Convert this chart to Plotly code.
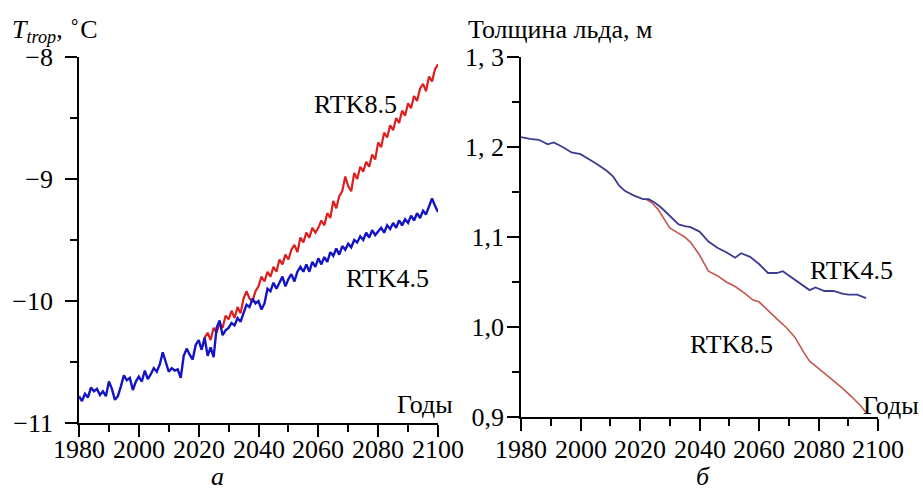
import plotly.graph_objects as go

# ---- Panel a: tropospheric temperature ----
years_a_blue = list(range(1980, 2101))
temp_rtk45 = [
    -10.78, -10.82, -10.76, -10.79, -10.71, -10.74, -10.72, -10.77, -10.74, -10.78,
    -10.66, -10.72, -10.81, -10.78, -10.70, -10.61, -10.65, -10.63, -10.73, -10.66,
    -10.62, -10.66, -10.57, -10.64, -10.60, -10.55, -10.58, -10.52, -10.42, -10.50,
    -10.58, -10.55, -10.57, -10.56, -10.63, -10.45, -10.39, -10.44, -10.48, -10.36,
    -10.32, -10.40, -10.30, -10.45, -10.38, -10.46, -10.22, -10.16, -10.28, -10.24,
    -10.22, -10.18, -10.20, -10.14, -10.17, -10.10, -10.03, -10.05, -9.98, -10.02,
    -10.00, -10.07, -10.02, -9.90, -9.92, -9.85, -9.90, -9.85, -9.80, -9.88,
    -9.82, -9.78, -9.84, -9.76, -9.72, -9.76, -9.70, -9.76, -9.68, -9.72,
    -9.65, -9.70, -9.64, -9.68, -9.60, -9.63, -9.57, -9.62, -9.55, -9.58,
    -9.53, -9.56, -9.50, -9.52, -9.47, -9.50, -9.44, -9.48, -9.42, -9.46,
    -9.43, -9.40, -9.44, -9.38, -9.41, -9.36, -9.40, -9.34, -9.38, -9.33,
    -9.36, -9.30, -9.34, -9.28, -9.32, -9.26, -9.29, -9.22, -9.16, -9.22,
    -9.27,
]
years_a_red = list(range(2022, 2101))
temp_rtk85 = [
    -10.30, -10.26, -10.32, -10.22, -10.26, -10.18, -10.22, -10.12,
    -10.15, -10.08, -10.14, -10.05, -10.10, -9.98, -9.92, -9.98, -10.00, -9.92,
    -9.88, -9.80, -9.84, -9.76, -9.80, -9.72, -9.76, -9.66, -9.70, -9.62,
    -9.66, -9.58, -9.54, -9.60, -9.48, -9.52, -9.44, -9.48, -9.40, -9.44,
    -9.40, -9.34, -9.38, -9.28, -9.32, -9.18, -9.24, -9.14, -9.10, -8.98,
    -9.06, -9.10, -8.95, -9.00, -8.90, -8.94, -8.86, -8.90, -8.80, -8.84,
    -8.70, -8.74, -8.62, -8.66, -8.56, -8.60, -8.50, -8.54, -8.44, -8.48,
    -8.38, -8.42, -8.32, -8.36, -8.26, -8.22, -8.28, -8.16, -8.20, -8.10,
    -8.06,
]

# ---- Panel b: ice thickness ----
years_b_blue = [1980, 1983, 1986, 1989, 1991, 1994, 1997, 2000, 2003, 2006, 2009,
                2011, 2013, 2015, 2018, 2021, 2023, 2025, 2027, 2030, 2033, 2035,
                2037, 2040, 2043, 2046, 2049, 2052, 2054, 2057, 2060, 2063, 2066,
                2068, 2071, 2074, 2077, 2079, 2082, 2085, 2088, 2090, 2093, 2096]
ice_rtk45 = [1.211, 1.209, 1.208, 1.203, 1.205, 1.200, 1.194, 1.192, 1.186, 1.180, 1.173,
             1.167, 1.157, 1.151, 1.146, 1.142, 1.142, 1.138, 1.133, 1.124, 1.114, 1.112,
             1.111, 1.106, 1.095, 1.088, 1.083, 1.077, 1.082, 1.078, 1.070, 1.060, 1.060,
             1.062, 1.055, 1.048, 1.041, 1.044, 1.040, 1.040, 1.037, 1.036, 1.036, 1.032]
years_b_red = [2022, 2024, 2026, 2028, 2030, 2033, 2035, 2037, 2040, 2043, 2046, 2049,
               2052, 2055, 2058, 2060, 2063, 2066, 2069, 2072, 2075, 2077, 2080, 2083,
               2086, 2088, 2091, 2094, 2096]
ice_rtk85 = [1.142, 1.138, 1.131, 1.120, 1.110, 1.104, 1.100, 1.094, 1.080, 1.062, 1.057, 1.050,
             1.045, 1.038, 1.030, 1.028, 1.018, 1.009, 1.000, 0.989, 0.972, 0.962, 0.954, 0.946,
             0.937, 0.932, 0.923, 0.913, 0.905]

x_ticks = [1980, 2000, 2020, 2040, 2060, 2080, 2100]
ya_ticks = [-8, -9, -10, -11]
yb_ticks = [1.3, 1.2, 1.1, 1.0, 0.9]
yb_ticktext = ["1, 3", "1, 2", "1,1", "1,0", "0,9"]

W, H = 923, 493
FONT = "Liberation Serif, Times New Roman, serif"
FS = 26

fig = go.Figure()
fig.add_trace(go.Scatter(x=years_a_red, y=temp_rtk85, mode="lines",
                         line=dict(color="#dc1f1f", width=2.2), xaxis="x", yaxis="y"))
fig.add_trace(go.Scatter(x=years_a_blue, y=temp_rtk45, mode="lines",
                         line=dict(color="#1414c4", width=2.4), xaxis="x", yaxis="y"))
fig.add_trace(go.Scatter(x=years_b_red, y=ice_rtk85, mode="lines",
                         line=dict(color="#c4574e", width=1.6), xaxis="x2", yaxis="y2"))
fig.add_trace(go.Scatter(x=years_b_blue, y=ice_rtk45, mode="lines",
                         line=dict(color="#3b3b92", width=1.8), xaxis="x2", yaxis="y2"))

def px(x):
    return x / W

def py(y):
    return 1 - y / H

axis_common = dict(showline=True, linecolor="black", linewidth=1.6, ticks="outside",
                   tickcolor="black", tickwidth=1.6, ticklen=12, showgrid=False,
                   zeroline=False, mirror=False, automargin=False,
                   tickfont=dict(family=FONT, size=FS, color="black"))

fig.update_layout(
    width=W, height=H, margin=dict(l=0, r=0, t=0, b=0, autoexpand=False),
    paper_bgcolor="white", plot_bgcolor="white", showlegend=False,
    font=dict(family=FONT, size=FS, color="black"),
    xaxis=dict(domain=[px(79), px(438)], range=[1980, 2100], anchor="y",
               tickvals=x_ticks, showticklabels=False,
               minor=dict(ticks="outside", dtick=10, tick0=1980, ticklen=7,
                          tickcolor="black", tickwidth=1.6),
               **axis_common),
    yaxis=dict(domain=[py(423), py(57)], range=[-11, -8], anchor="x",
               tickvals=ya_ticks, ticktext=["\u22128", "\u22129", "\u221210", "\u221211"],
               minor=dict(ticks="outside", dtick=0.5, tick0=-11, ticklen=7,
                          tickcolor="black", tickwidth=1.6),
               ticklabelstandoff=7,
               **axis_common),
    xaxis2=dict(domain=[px(521), px(878)], range=[1980, 2100], anchor="y2",
                tickvals=x_ticks, showticklabels=False,
                minor=dict(ticks="outside", dtick=10, tick0=1980, ticklen=7,
                           tickcolor="black", tickwidth=1.6),
                **axis_common),
    yaxis2=dict(domain=[py(417), py(57)], range=[0.9, 1.3], anchor="x2",
                tickvals=yb_ticks, ticktext=yb_ticktext,
                minor=dict(ticks="outside", dtick=0.05, tick0=0.9, ticklen=7,
                           tickcolor="black", tickwidth=1.6),
                ticklabelstandoff=-2,
                **axis_common),
)

# x tick labels placed on the axis scale (closer to the axis than Plotly's default)
for xr in ("x", "x2"):
    for v in x_ticks:
        fig.add_annotation(text=str(v), x=v, xref=xr, y=py(449), yref="paper",
                           showarrow=False, xanchor="center", yanchor="middle",
                           font=dict(family=FONT, size=FS, color="black"))

def txt(text, x, y, xanchor="center", size=FS, yanchor="middle"):
    fig.add_annotation(text=text, x=px(x), y=py(y), xref="paper", yref="paper",
                       showarrow=False, xanchor=xanchor, yanchor=yanchor,
                       font=dict(family=FONT, size=size, color="black"))

txt("<i>T</i><sub><i>trop</i></sub>, <sup>\u2218</sup>C", 10, 29, xanchor="left")
txt("Толщина льда, м", 466, 29, xanchor="left")
txt("RTK8.5", 355, 104)
txt("RTK4.5", 387, 278)
txt("Годы", 425, 404)
txt("<i>а</i>", 217, 493, yanchor="bottom")
txt("RTK4.5", 851, 270)
txt("RTK8.5", 731, 344)
txt("Годы", 891, 405)
txt("<i>б</i>", 703, 493, yanchor="bottom")

fig.write_html("out.html")
